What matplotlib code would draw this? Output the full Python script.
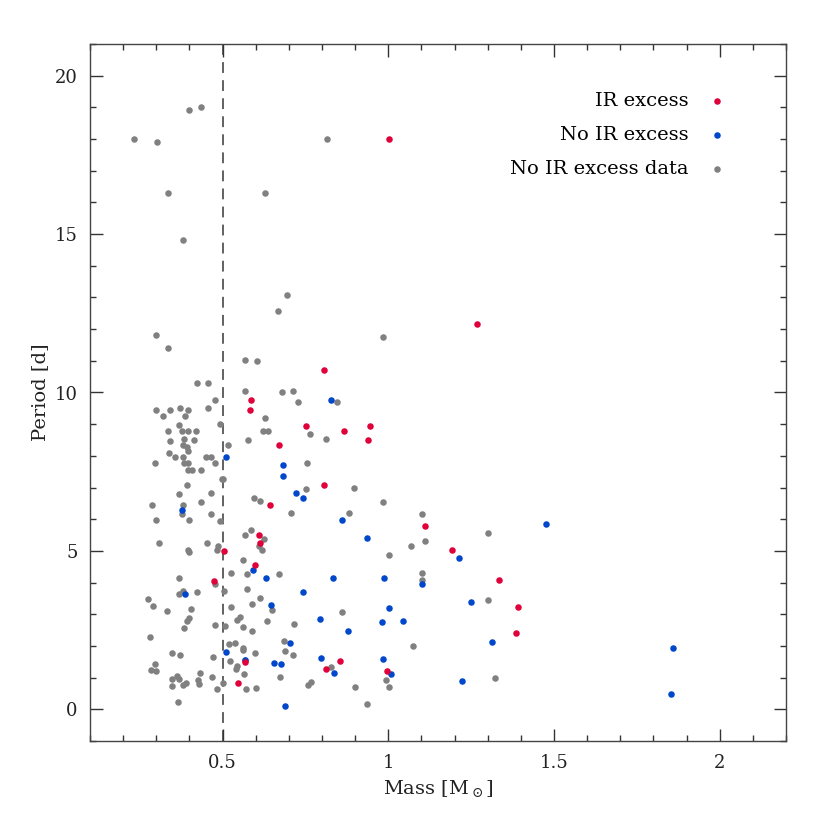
import matplotlib
matplotlib.use("Agg")
import matplotlib.pyplot as plt
from matplotlib.ticker import MultipleLocator

plt.rcParams['font.family'] = ['DejaVu Serif']
plt.rcParams['mathtext.fontset'] = 'dejavuserif'

# IR excess (red)
ir_mass = [1.001, 0.805, 0.586, 0.582, 0.753, 0.944, 0.866, 0.939, 0.669, 0.806,
           0.642, 1.111, 0.609, 0.613, 0.505, 0.598, 0.473, 0.568, 0.853, 0.813,
           0.996, 0.547, 1.268, 1.193, 1.335, 1.392, 1.385]
ir_period = [18.0, 10.70, 9.77, 9.45, 8.95, 8.95, 8.77, 8.49, 8.34, 7.09,
             6.45, 5.79, 5.51, 5.26, 5.01, 4.56, 4.06, 1.49, 1.52, 1.27,
             1.22, 0.82, 12.16, 5.02, 4.07, 3.24, 2.40]

# No IR excess (blue)
noir_mass = [0.828, 0.509, 0.681, 0.681, 0.722, 0.744, 0.379, 0.859, 0.935, 0.591,
             0.632, 0.832, 0.988, 1.102, 0.386, 0.744, 0.647, 1.003, 0.794, 0.877,
             0.980, 1.044, 0.702, 0.510, 0.567, 0.655, 0.676, 0.798, 0.837, 0.983,
             1.007, 0.688, 1.476, 1.212, 1.250, 1.313, 1.860, 1.221, 1.852]
noir_period = [9.77, 7.95, 7.72, 7.38, 6.84, 6.67, 6.29, 5.99, 5.42, 4.40,
               4.13, 4.13, 4.16, 3.97, 3.63, 3.69, 3.29, 3.21, 2.86, 2.47,
               2.75, 2.80, 2.09, 1.82, 1.56, 1.46, 1.42, 1.62, 1.14, 1.58,
               1.12, 0.09, 5.86, 4.79, 3.38, 2.14, 1.93, 0.88, 0.48]

# No IR excess data (gray)
nodata_mass = [0.398, 0.434, 0.232, 0.303, 0.816, 0.335, 0.629, 0.380, 0.695, 0.667,
               0.299, 0.336, 0.984, 0.568, 0.605, 0.423, 0.457, 0.567, 0.680, 0.713,
               0.478, 0.846, 0.728, 0.299, 0.342, 0.373, 0.397, 0.455, 0.320, 0.386,
               0.627, 0.370, 0.492, 0.334, 0.377, 0.397, 0.419, 0.622, 0.638, 0.765,
               0.340, 0.383, 0.414, 0.576, 0.811, 0.380, 0.392, 0.515, 0.397, 0.338,
               0.357, 0.380, 0.449, 0.466, 0.295, 0.383, 0.397, 0.477, 0.756, 0.397,
               0.407, 0.434, 0.497, 0.501, 0.392, 0.370, 0.464, 0.752, 0.898, 0.596,
               0.612, 0.435, 0.984, 0.286, 0.381, 0.379, 0.465, 0.705, 0.880, 1.101,
               0.298, 0.399, 0.492, 0.587, 0.567, 0.626, 0.309, 0.453, 0.486, 0.484,
               0.611, 0.620, 1.070, 1.111, 0.395, 0.400, 1.002, 0.561, 0.525, 0.573,
               0.670, 1.102, 0.369, 0.478, 1.102, 0.370, 0.380, 0.422, 0.504, 0.573,
               0.274, 0.290, 0.332, 0.405, 0.526, 0.588, 0.613, 0.650, 0.859, 0.400,
               0.392, 0.384, 0.477, 0.506, 0.545, 0.552, 0.563, 0.588, 0.633, 0.716,
               0.282, 0.519, 0.536, 0.562, 0.562, 0.597, 0.686, 0.689, 0.713, 1.076,
               0.347, 0.373, 0.472, 0.523, 0.567, 0.545, 0.541, 0.565, 0.828, 0.992,
               1.003, 0.296, 0.285, 0.299, 0.431, 0.347, 0.361, 0.370, 0.346, 0.382,
               0.391, 0.426, 0.429, 0.467, 0.502, 0.484, 0.572, 0.602, 0.673, 0.757,
               0.768, 0.900, 0.936, 0.365, 1.301, 1.301, 1.321]
nodata_period = [18.93, 19.02, 18.0, 17.92, 18.0, 16.3, 16.3, 14.81, 13.08, 12.58,
                 11.8, 11.41, 11.74, 11.04, 10.98, 10.31, 10.31, 10.06, 10.02, 10.06,
                 9.77, 9.71, 9.71, 9.44, 9.45, 9.50, 9.44, 9.50, 9.25, 9.25,
                 9.18, 8.97, 9.0, 8.77, 8.77, 8.77, 8.77, 8.77, 8.77, 8.70,
                 8.47, 8.54, 8.50, 8.51, 8.54, 8.34, 8.28, 8.34, 8.14, 8.10,
                 7.95, 7.95, 7.95, 7.95, 7.77, 7.77, 7.77, 7.77, 7.77, 7.55,
                 7.55, 7.55, 7.26, 7.28, 7.08, 6.80, 6.84, 6.95, 6.98, 6.67,
                 6.58, 6.55, 6.54, 6.45, 6.45, 6.16, 6.17, 6.21, 6.21, 6.18,
                 5.99, 5.99, 5.95, 5.66, 5.51, 5.38, 5.26, 5.24, 5.15, 5.02,
                 5.17, 5.02, 5.17, 5.30, 5.02, 4.95, 4.88, 4.71, 4.30, 4.28,
                 4.27, 4.31, 4.16, 3.97, 4.07, 3.64, 3.73, 3.71, 3.75, 3.79,
                 3.47, 3.25, 3.09, 3.17, 3.22, 3.32, 3.51, 3.13, 3.06, 2.88,
                 2.79, 2.58, 2.65, 2.63, 2.83, 2.90, 2.59, 2.48, 2.79, 2.69,
                 2.27, 2.07, 2.09, 1.95, 1.88, 1.78, 2.15, 1.85, 1.70, 2.00,
                 1.79, 1.73, 1.66, 1.54, 1.56, 1.36, 1.27, 1.10, 1.34, 0.92,
                 0.71, 1.42, 1.25, 1.20, 1.15, 0.97, 1.04, 0.97, 0.73, 0.76,
                 0.84, 0.92, 0.81, 1.03, 0.84, 0.65, 0.63, 0.67, 1.01, 0.78,
                 0.85, 0.71, 0.17, 0.22, 5.56, 3.44, 1.00]

mass_cut = 0.5

red = '#E0003A'
blue = '#0047CC'
gray = '#808080'

fig = plt.figure(figsize=(8.3, 8.3), dpi=100)
ax = fig.add_axes([90/830, 89/830, 696/830, 697/830])

ax.axvline(mass_cut, color='#555555', lw=1.3, ls=(0, (6, 4)), zorder=1)

ms = 22
ax.scatter(nodata_mass, nodata_period, s=ms, color=gray, lw=0, zorder=2)
ax.scatter(noir_mass, noir_period, s=ms, color=blue, lw=0, zorder=3)
ax.scatter(ir_mass, ir_period, s=ms, color=red, lw=0, zorder=4)

# legend proxies
h1 = ax.scatter([], [], s=ms, color=red, lw=0, label='IR excess')
h2 = ax.scatter([], [], s=ms, color=blue, lw=0, label='No IR excess')
h3 = ax.scatter([], [], s=ms, color=gray, lw=0, label='No IR excess data')
leg = ax.legend(handles=[h1, h2, h3], loc='upper right', markerfirst=False,
                frameon=False, fontsize=14, labelspacing=0.82, handletextpad=0.45,
                borderaxespad=1.6, scatterpoints=1,
                bbox_to_anchor=(1 - 11/696, 1 - 9/697))

ax.set_xlim(0.1, 2.2)
ax.set_ylim(-1, 21)
ax.xaxis.set_major_locator(MultipleLocator(0.5))
ax.xaxis.set_minor_locator(MultipleLocator(0.1))
ax.yaxis.set_major_locator(MultipleLocator(5))
ax.yaxis.set_minor_locator(MultipleLocator(1))
ax.set_xticks([0.5, 1, 1.5, 2])
ax.set_xticklabels(['0.5', '1', '1.5', '2'])

ax.tick_params(which='both', direction='in', top=True, right=True, colors='#333333',
               labelcolor='#222222', labelsize=13)
ax.tick_params(which='major', length=9, width=1.0, pad=9)
ax.tick_params(which='minor', length=4.5, width=1.0)
for sp in ax.spines.values():
    sp.set_color('#444444')
    sp.set_linewidth(1.0)

ax.set_xlabel(r'Mass [M$_\odot$]', fontsize=14, color='#222222', labelpad=5)
ax.set_ylabel('Period [d]', fontsize=14, color='#222222', labelpad=4)

fig.savefig('out.png', dpi=100)
